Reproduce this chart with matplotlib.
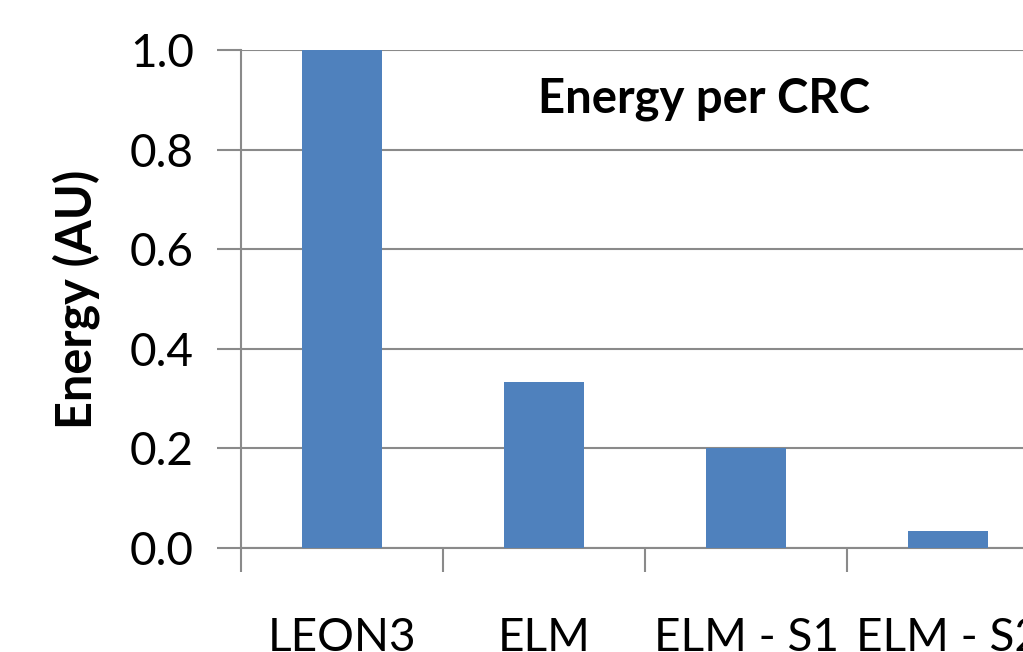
import matplotlib
matplotlib.use("Agg")
from matplotlib import pyplot as plt

categories = ["LEON3", "ELM", "ELM - S1", "ELM - S2"]
energy = [1.0, 0.333, 0.2, 0.034]
yticks = [0.0, 0.2, 0.4, 0.6, 0.8, 1.0]

plt.rcParams["font.family"] = ["Lato", "DejaVu Sans"]

W, H = 1023, 652
fig = plt.figure(figsize=(W / 100, H / 100), dpi=100)
# plot area runs past the right edge, as in the cropped original
ax = fig.add_axes([241 / W, 104 / H, 808 / W, 498 / H])

grid_color = "#8a8a8a"
x = range(len(categories))
ax.bar(x, energy, width=0.4, color="#4f81bd", zorder=3)

ax.set_xlim(-0.5, len(categories) - 0.5)
ax.set_ylim(0, 1.0)
ax.set_yticks(yticks)
ax.set_yticklabels(["%.1f" % v for v in yticks])
ax.yaxis.grid(True, color=grid_color, linewidth=1.5, zorder=0)
ax.set_xticks([i - 0.5 for i in x], minor=False)
ax.set_xticklabels([])
ax.set_xticks(list(x), minor=True)
ax.set_xticklabels(categories, minor=True)

for side in ("top", "right"):
    ax.spines[side].set_visible(False)
for side in ("left", "bottom"):
    ax.spines[side].set_color(grid_color)
    ax.spines[side].set_linewidth(1.5)

ax.tick_params(axis="y", which="major", length=17, width=1.5, color=grid_color,
               labelsize=33, pad=17)
ax.tick_params(axis="x", which="major", length=17, width=1.5, color=grid_color)
ax.tick_params(axis="x", which="minor", length=0, labelsize=33, pad=50)

ax.set_ylabel("Energy (AU)", fontsize=35, fontweight="bold")
ax.yaxis.set_label_coords(-0.174, 0.5)
ax.text(0.573, 0.902, "Energy per CRC", transform=ax.transAxes, fontsize=34,
        fontweight="bold", ha="center", va="center")

fig.savefig("out.png", dpi=100)
